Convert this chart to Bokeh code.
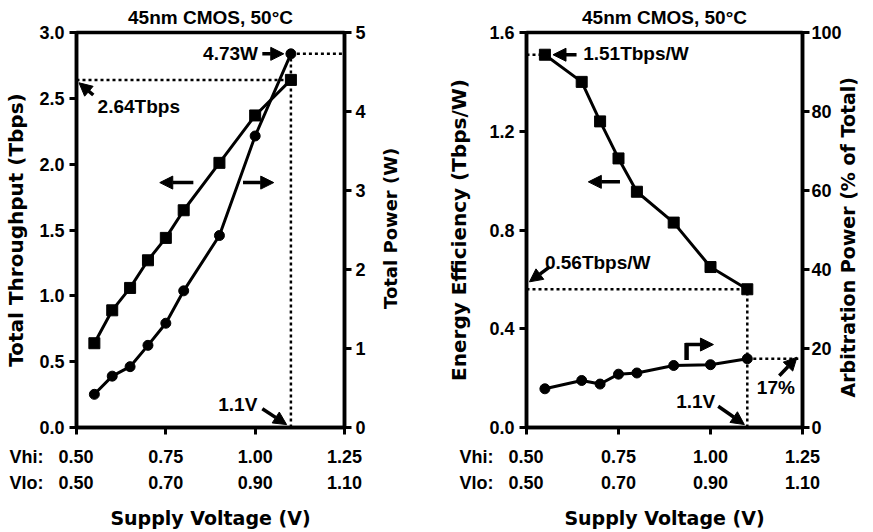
import math
from bokeh.plotting import figure
from bokeh.layouts import row
from bokeh.models import (Range1d, LinearAxis, FixedTicker, Label, Arrow, NormalHead)
from bokeh.embed import file_html
from bokeh.resources import INLINE

# ---------------- data ----------------
vhi_ticks = [0.50, 0.75, 1.00, 1.25]
vhi_labels = ["0.50", "0.75", "1.00", "1.25"]
vlo_labels = ["0.50", "0.70", "0.90", "1.10"]

vhi_tp = [0.55, 0.60, 0.65, 0.70, 0.75, 0.80, 0.90, 1.00, 1.10]
throughput = [0.64, 0.89, 1.06, 1.27, 1.44, 1.65, 2.01, 2.37, 2.64]
power = [0.42, 0.65, 0.77, 1.04, 1.32, 1.73, 2.43, 3.69, 4.73]

vhi_eff = [0.55, 0.65, 0.70, 0.75, 0.80, 0.90, 1.00, 1.10]
efficiency = [1.51, 1.40, 1.24, 1.09, 0.955, 0.83, 0.65, 0.56]
arb_pct = [9.8, 11.9, 11.0, 13.5, 13.8, 15.7, 15.9, 17.4]

tp_ticks = [0.0, 0.5, 1.0, 1.5, 2.0, 2.5, 3.0]
pw_ticks = [0, 1, 2, 3, 4, 5]
eff_ticks = [0.0, 0.4, 0.8, 1.2, 1.6]
arb_ticks = [0, 20, 40, 60, 80, 100]

TITLE = "45nm CMOS, 50°C"
FONT = "Liberation Sans"
TFONT = "DejaVu Sans"
FS = "18px"
AFS = "19px"
NB = "\u00a0"

# ---------------- helpers ----------------
def style_axis(ax, ticks, labels=None, label=None, lsize="19px"):
    ax.ticker = FixedTicker(ticks=ticks)
    if labels is not None:
        ax.major_label_overrides = {t: l for t, l in zip(ticks, labels)}
    ax.axis_line_width = 3.5
    ax.major_tick_line_width = 3
    ax.major_tick_in = 0
    ax.major_tick_out = 7
    ax.minor_tick_line_color = None
    ax.major_label_text_font = FONT
    ax.major_label_text_font_style = "bold"
    ax.major_label_text_font_size = FS
    ax.major_label_text_color = "black"
    if label:
        ax.axis_label = label
    ax.axis_label_text_font = TFONT
    ax.axis_label_text_font_style = "bold"
    ax.axis_label_text_font_size = lsize
    ax.axis_label_text_color = "black"


def make_fig(width, bl, br, ymax, rname, rmax):
    p = figure(width=width, height=532, output_backend="svg", toolbar_location=None,
               x_range=Range1d(0.5, 1.25), y_range=Range1d(0, ymax),
               min_border_left=bl, min_border_right=br, min_border_top=29,
               min_border_bottom=105)
    p.extra_y_ranges = {rname: Range1d(0, rmax)}
    p.xgrid.visible = False
    p.ygrid.visible = False
    p.outline_line_color = "black"
    p.outline_line_width = 3.5
    p.outline_line_alpha = 1
    p.background_fill_color = "white"
    p.border_fill_color = "white"
    p.title.text = TITLE
    p.title.align = "center"
    p.title.text_font = FONT
    p.title.text_font_style = "bold"
    p.title.text_font_size = "19px"
    p.title.text_color = "black"
    p.title.offset = 0
    p.title.standoff = 9
    return p


def bottom_axes(p):
    first_hi = "Vhi:" + NB * 3 + vhi_labels[0] + NB * 10
    first_lo = "Vlo:" + NB * 3 + vlo_labels[0] + NB * 10
    style_axis(p.xaxis[0], vhi_ticks, [first_hi] + vhi_labels[1:])
    p.xaxis[0].major_label_standoff = 12
    ax2 = LinearAxis()
    style_axis(ax2, vhi_ticks, [first_lo] + vlo_labels[1:], "Supply Voltage (V)")
    ax2.axis_line_color = None
    ax2.major_tick_line_color = None
    ax2.major_tick_out = 0
    ax2.major_label_standoff = 3
    ax2.axis_label_standoff = 11
    p.add_layout(ax2, "below")


def right_title(p, rname, text, pos, size, standoff):
    # rotated title on the right, reading bottom-to-top, starting at `pos`
    ax = LinearAxis(y_range_name=rname, ticker=FixedTicker(ticks=[pos]))
    ax.major_label_overrides = {pos: text}
    ax.axis_line_color = None
    ax.major_tick_line_color = None
    ax.minor_tick_line_color = None
    ax.major_tick_out = 0
    ax.major_tick_in = 0
    ax.major_label_orientation = math.pi / 2
    ax.major_label_standoff = standoff
    ax.major_label_text_font = TFONT
    ax.major_label_text_font_style = "bold"
    ax.major_label_text_font_size = size
    ax.major_label_text_color = "black"
    p.add_layout(ax, "right")


def lab(p, x, y, text, align="left", rname=None):
    kw = dict(x=x, y=y, text=text, text_font=FONT, text_font_style="bold",
              text_font_size=AFS, text_align=align, text_baseline="middle",
              text_color="black")
    if rname:
        kw["y_range_name"] = rname
    p.add_layout(Label(**kw))


def arrow(p, x0, y0, x1, y1, rname=None, size=13):
    kw = dict(end=NormalHead(size=size, fill_color="black", line_color="black", line_width=1),
              x_start=x0, y_start=y0, x_end=x1, y_end=y1, line_width=3.5, line_color="black")
    if rname:
        kw["y_range_name"] = rname
    p.add_layout(Arrow(**kw))


def dotted(p, xs, ys, rname=None):
    kw = dict(line_color="black", line_width=2.5, line_dash="3 3")
    if rname:
        kw["y_range_name"] = rname
    p.line(xs, ys, **kw)


# ---------------- left chart ----------------
p1 = make_fig(436, 76, 92, 3.0, "pw", 5)
bottom_axes(p1)
style_axis(p1.yaxis[0], tp_ticks, [f"{t:.1f}" for t in tp_ticks], "Total Throughput (Tbps)", "20px")
p1.yaxis[0].major_label_standoff = 5
p1.yaxis[0].axis_label_standoff = 8
rax1 = LinearAxis(y_range_name="pw")
style_axis(rax1, pw_ticks, [str(t) for t in pw_ticks])
rax1.major_label_standoff = 4
p1.add_layout(rax1, "right")
right_title(p1, "pw", "Total Power (W)", 1.50, "18px", 22)

dotted(p1, [0.5, vhi_tp[-1]], [throughput[-1], throughput[-1]])
dotted(p1, [vhi_tp[-1], 1.25], [power[-1], power[-1]], "pw")
dotted(p1, [vhi_tp[-1], vhi_tp[-1]], [0, power[-1]], "pw")

p1.line(vhi_tp, throughput, line_color="black", line_width=3)
p1.scatter(vhi_tp, throughput, marker="square", size=11, color="black")
p1.line(vhi_tp, power, line_color="black", line_width=3, y_range_name="pw")
p1.scatter(vhi_tp, power, marker="circle", size=10, color="black", y_range_name="pw")

lab(p1, 1.008, 4.73, "4.73W", "right", "pw")
arrow(p1, 1.02, 4.73, 1.08, 4.73, "pw")
lab(p1, 0.559, 2.44, "2.64Tbps")
arrow(p1, 0.547, 2.525, 0.507, 2.618)
arrow(p1, 0.827, 1.86, 0.733, 1.86)
arrow(p1, 0.966, 1.86, 1.052, 1.86)
lab(p1, 1.006, 0.173, "1.1V", "right")
arrow(p1, 1.02, 0.143, 1.088, 0.022)

# ---------------- right chart ----------------
p2 = make_fig(437, 90, 69, 1.6, "arb", 100)
bottom_axes(p2)
style_axis(p2.yaxis[0], eff_ticks, [f"{t:.1f}" for t in eff_ticks], "Energy Efficiency (Tbps/W)", "20px")
p2.yaxis[0].major_label_standoff = 5
p2.yaxis[0].axis_label_standoff = 15
rax2 = LinearAxis(y_range_name="arb")
style_axis(rax2, arb_ticks, [str(t) for t in arb_ticks])
rax2.major_label_standoff = 2
p2.add_layout(rax2, "right")
right_title(p2, "arb", "Arbitration Power (% of Total)", 7.6, "19px", 4)

dotted(p2, [0.5, vhi_eff[0]], [efficiency[0], efficiency[0]])
dotted(p2, [0.5, vhi_eff[-1]], [efficiency[-1], efficiency[-1]])
dotted(p2, [vhi_eff[-1], vhi_eff[-1]], [0, efficiency[-1]])
dotted(p2, [vhi_eff[-1], 1.25], [arb_pct[-1], arb_pct[-1]], "arb")

p2.line(vhi_eff, efficiency, line_color="black", line_width=3)
p2.scatter(vhi_eff, efficiency, marker="square", size=11, color="black")
p2.line(vhi_eff, arb_pct, line_color="black", line_width=3, y_range_name="arb")
p2.scatter(vhi_eff, arb_pct, marker="circle", size=10, color="black", y_range_name="arb")

lab(p2, 0.654, 1.513, "1.51Tbps/W")
arrow(p2, 0.636, 1.51, 0.572, 1.51)
lab(p2, 0.550, 0.667, "0.56Tbps/W")
arrow(p2, 0.563, 0.651, 0.508, 0.59)
arrow(p2, 0.754, 0.995, 0.668, 0.995)
p2.line([0.935, 0.935], [17.1, 21.4], line_color="black", line_width=4.5, y_range_name="arb")
arrow(p2, 0.932, 21.0, 1.008, 21.0, "arb")
lab(p2, 1.126, 10.1, "17%", "left", "arb")
arrow(p2, 1.187, 13.1, 1.235, 17.8, "arb")
lab(p2, 1.013, 0.107, "1.1V", "right")
arrow(p2, 1.021, 0.086, 1.092, 0.012)

layout = row(p1, p2, spacing=0)
open("out.html", "w").write(file_html(layout, INLINE))
